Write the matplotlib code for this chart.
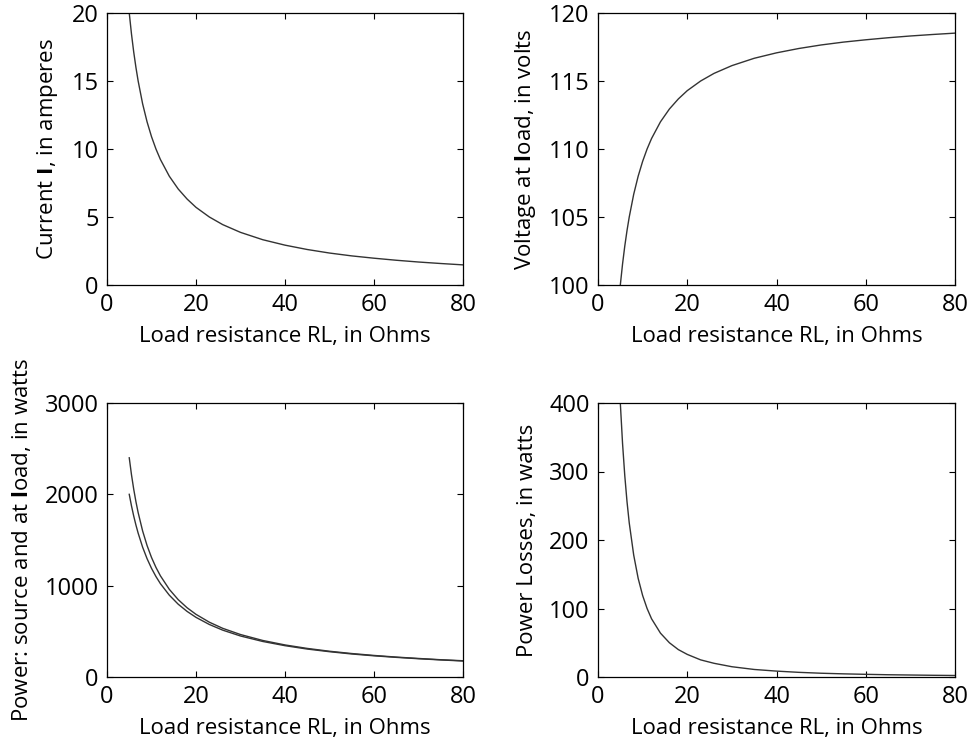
import matplotlib
matplotlib.use("Agg")
import matplotlib.pyplot as plt

# Load resistance values (Ohms) and readings from the picture
rl = [5, 5.5, 6, 6.5, 7, 8, 9, 10, 11, 12, 14, 16, 18, 20, 23, 26, 30, 35, 40,
      45, 50, 55, 60, 65, 70, 75, 80]
current = [20.0, 18.46, 17.14, 16.0, 15.0, 13.33, 12.0, 10.91, 10.0, 9.23, 8.0,
           7.06, 6.32, 5.71, 5.0, 4.44, 3.87, 3.33, 2.93, 2.61, 2.35, 2.14, 1.97,
           1.82, 1.69, 1.58, 1.48]
voltage_load = [100.0, 101.54, 102.86, 104.0, 105.0, 106.67, 108.0, 109.09, 110.0,
                110.77, 112.0, 112.94, 113.68, 114.29, 115.0, 115.56, 116.13,
                116.67, 117.07, 117.39, 117.65, 117.86, 118.03, 118.18, 118.31,
                118.42, 118.52]
power_source = [2400, 2215, 2057, 1920, 1800, 1600, 1440, 1309, 1200, 1108, 960,
                847, 758, 686, 600, 533, 465, 400, 351, 313, 282, 257, 236, 218,
                203, 189, 178]
power_load = [2000, 1874, 1763, 1664, 1575, 1422, 1296, 1190, 1100, 1022, 896,
              797, 718, 653, 575, 513, 449, 389, 343, 306, 277, 252, 232, 215,
              200, 187, 175]
power_loss = [400, 341, 294, 256, 225, 178, 144, 119, 100, 85, 64, 50, 40, 33,
              25, 20, 15, 11, 8.6, 6.8, 5.5, 4.6, 3.9, 3.3, 2.9, 2.5, 2.2]

x_ticks = [0, 20, 40, 60, 80]
xlabel = "Load resistance RL, in Ohms"

plt.rcParams['font.family'] = ['Open Sans', 'DejaVu Sans']
plt.rcParams['mathtext.fontset'] = 'custom'
plt.rcParams['mathtext.rm'] = 'Open Sans'
plt.rcParams['mathtext.bf'] = 'Open Sans:bold'
plt.rcParams['font.size'] = 16

W, H = 977, 747
fig = plt.figure(figsize=(W / 100, H / 100), dpi=100)

def mkax(l, r, t, b):
    return fig.add_axes([l / W, 1 - b / H, (r - l) / W, (b - t) / H])

ax1 = mkax(107, 463, 13, 285)
ax2 = mkax(598, 955, 13, 285)
ax3 = mkax(107, 463, 403, 677)
ax4 = mkax(598, 955, 403, 677)

lc = '#333333'
ax1.plot(rl, current, color=lc, lw=1)
ax1.set_ylim(0, 20)
ax1.set_yticks([0, 5, 10, 15, 20])
ax1.set_ylabel(r"Current $\mathbf{I}$, in amperes", labelpad=8)

ax2.plot(rl, voltage_load, color=lc, lw=1)
ax2.set_ylim(100, 120)
ax2.set_yticks([100, 105, 110, 115, 120])
ax2.set_ylabel(r"Voltage at $\mathbf{l}$oad, in volts", labelpad=8)

ax3.plot(rl, power_source, color=lc, lw=1)
ax3.plot(rl, power_load, color=lc, lw=1)
ax3.set_ylim(0, 3000)
ax3.set_yticks([0, 1000, 2000, 3000])
ax3.set_ylabel(r"Power: source and at $\mathbf{l}$oad, in watts", labelpad=8)

ax4.plot(rl, power_loss, color=lc, lw=1)
ax4.set_ylim(0, 400)
ax4.set_yticks([0, 100, 200, 300, 400])
ax4.set_ylabel("Power Losses, in watts", labelpad=8)

for ax in (ax1, ax2, ax3, ax4):
    ax.set_xlim(0, 80)
    ax.set_xticks(x_ticks)
    ax.set_xlabel(xlabel, labelpad=6)
    ax.tick_params(direction='in', length=4, width=0.8, top=True, right=True,
                   labelsize=17, pad=6, colors='black')
    for s in ax.spines.values():
        s.set_linewidth(0.9)

fig.savefig("out.png", dpi=100)
